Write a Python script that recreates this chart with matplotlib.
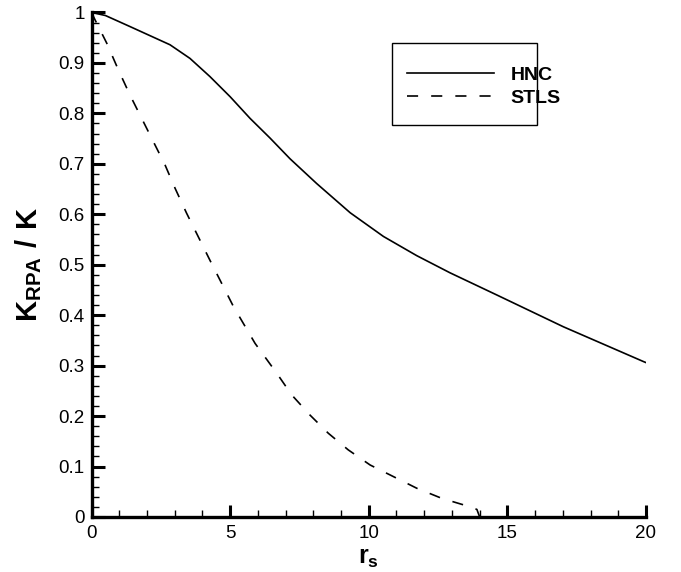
import matplotlib
matplotlib.use("Agg")
import matplotlib.pyplot as plt
from matplotlib.patches import Rectangle
from matplotlib.ticker import MultipleLocator, FuncFormatter

plt.rcParams['font.family'] = ['Liberation Sans', 'DejaVu Sans']
plt.rcParams['mathtext.fontset'] = 'custom'
plt.rcParams['mathtext.rm'] = 'Liberation Sans'
plt.rcParams['mathtext.bf'] = 'Liberation Sans:bold'
plt.rcParams['lines.scale_dashes'] = False

# HNC curve
rs_hnc = [0.0, 0.5, 1.39, 2.83, 3.55, 4.27, 5.0, 5.72, 6.44, 7.16, 8.12,
          9.33, 10.53, 11.73, 12.93, 14.62, 17.02, 19.91, 20.0]
k_hnc = [1.0, 0.994, 0.972, 0.936, 0.909, 0.873, 0.833, 0.790, 0.751, 0.710,
         0.661, 0.603, 0.556, 0.518, 0.484, 0.440, 0.377, 0.308, 0.306]

# STLS curve
rs_stls = [0.0, 0.13, 0.55, 0.97, 1.39, 1.81, 2.23, 2.65, 3.01, 3.43, 4.27,
           5.12, 5.9, 6.68, 7.22, 7.88, 8.54, 9.26, 10.05, 10.89, 11.73,
           12.63, 13.54, 13.9, 14.0]
k_stls = [1.0, 0.985, 0.939, 0.886, 0.836, 0.790, 0.744, 0.698, 0.652, 0.602,
          0.509, 0.417, 0.344, 0.285, 0.242, 0.202, 0.166, 0.133, 0.103,
          0.080, 0.057, 0.037, 0.022, 0.015, 0.0]

fig = plt.figure(figsize=(6.81, 5.72), dpi=100)
ax = fig.add_axes([0.1344, 0.0962, 0.8142, 0.8820])

ax.plot(rs_hnc, k_hnc, color='black', lw=1.2, label='HNC')
ax.plot(rs_stls, k_stls, color='black', lw=1.2, dashes=(8, 9.4), label='STLS')

ax.set_xlim(0, 20)
ax.set_ylim(0, 1)

for side in ('top', 'right'):
    ax.spines[side].set_visible(False)
for side in ('left', 'bottom'):
    ax.spines[side].set_linewidth(2.4)

ax.xaxis.set_major_locator(MultipleLocator(5))
ax.xaxis.set_minor_locator(MultipleLocator(1))
ax.yaxis.set_major_locator(MultipleLocator(0.1))
ax.yaxis.set_minor_locator(MultipleLocator(0.02))
ax.yaxis.set_major_formatter(FuncFormatter(lambda v, p: f"{v:g}"))
ax.xaxis.set_major_formatter(FuncFormatter(lambda v, p: f"{v:g}"))

ax.tick_params(which='major', direction='in', length=9, width=2.2,
               labelsize=13.5, pad=5)
ax.tick_params(which='minor', direction='in', length=5, width=1.0)
ax.tick_params(axis='x', which='major', pad=6)

ax.set_xlabel(r'$\mathbf{r_s}$', fontsize=18, labelpad=3)
ax.set_ylabel(r'$\mathbf{K_{RPA}\ /\ K}$', fontsize=21, labelpad=10)

leg = ax.legend(loc='upper left', bbox_to_anchor=(0.551, 0.912),
                frameon=False, handlelength=4.5,
                handletextpad=0.85, labelspacing=0.28, borderpad=0,
                prop={'weight': 'bold', 'size': 14})

ax.add_patch(Rectangle((0.542, 0.777), 0.261, 0.1625, transform=ax.transAxes,
                       fill=False, edgecolor='black', lw=1.0, clip_on=False))

fig.savefig('out.png', dpi=100)
